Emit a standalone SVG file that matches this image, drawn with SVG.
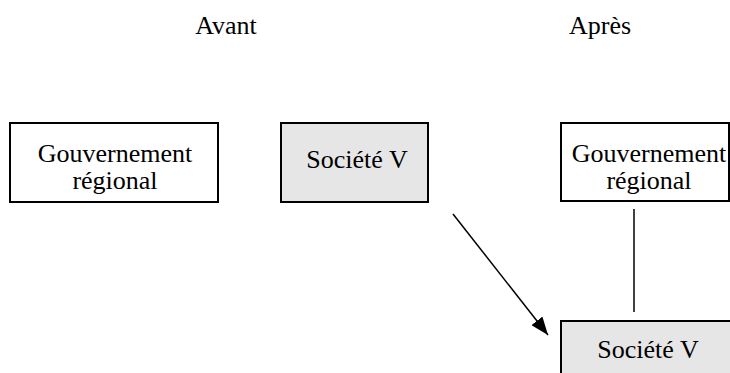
<svg xmlns="http://www.w3.org/2000/svg" width="730" height="373" viewBox="0 0 730 373">
<style>
text{font-family:"Liberation Serif","Times New Roman",serif;font-size:26px;fill:#000;text-anchor:middle}
.box{stroke:#000;stroke-width:2}
.w{fill:#fff}
.g{fill:#e6e6e6}
.ln{stroke:#000;stroke-width:1.5;fill:none}
</style>
<defs>
<marker id="ah" viewBox="0 0 18 14" refX="18" refY="7" markerWidth="18" markerHeight="14" orient="auto" markerUnits="userSpaceOnUse">
<path d="M0,0 L18,7 L0,14 z" fill="#000"/>
</marker>
</defs>
<rect width="730" height="373" fill="#fff"/>
<text x="226" y="34">Avant</text>
<text x="600" y="34">Après</text>
<g id="gov-avant">
<rect class="box w" x="10" y="123" width="208" height="79"/>
<text x="115" y="162">Gouvernement</text>
<text x="115" y="189">régional</text>
</g>
<g id="societe-avant">
<rect class="box g" x="281" y="123" width="147" height="79"/>
<text x="357" y="168">Société V</text>
</g>
<g id="gov-apres">
<rect class="box w" x="561" y="123" width="168" height="78"/>
<text x="649" y="162">Gouvernement</text>
<text x="649" y="189">régional</text>
</g>
<g id="societe-apres">
<rect class="box g" x="561" y="321" width="176" height="60"/>
<text x="648" y="358">Société V</text>
</g>
<g id="connectors">
<line class="ln" x1="453" y1="214" x2="548" y2="335" marker-end="url(#ah)"/>
<line class="ln" x1="634" y1="209" x2="634" y2="312"/>
</g>
</svg>
